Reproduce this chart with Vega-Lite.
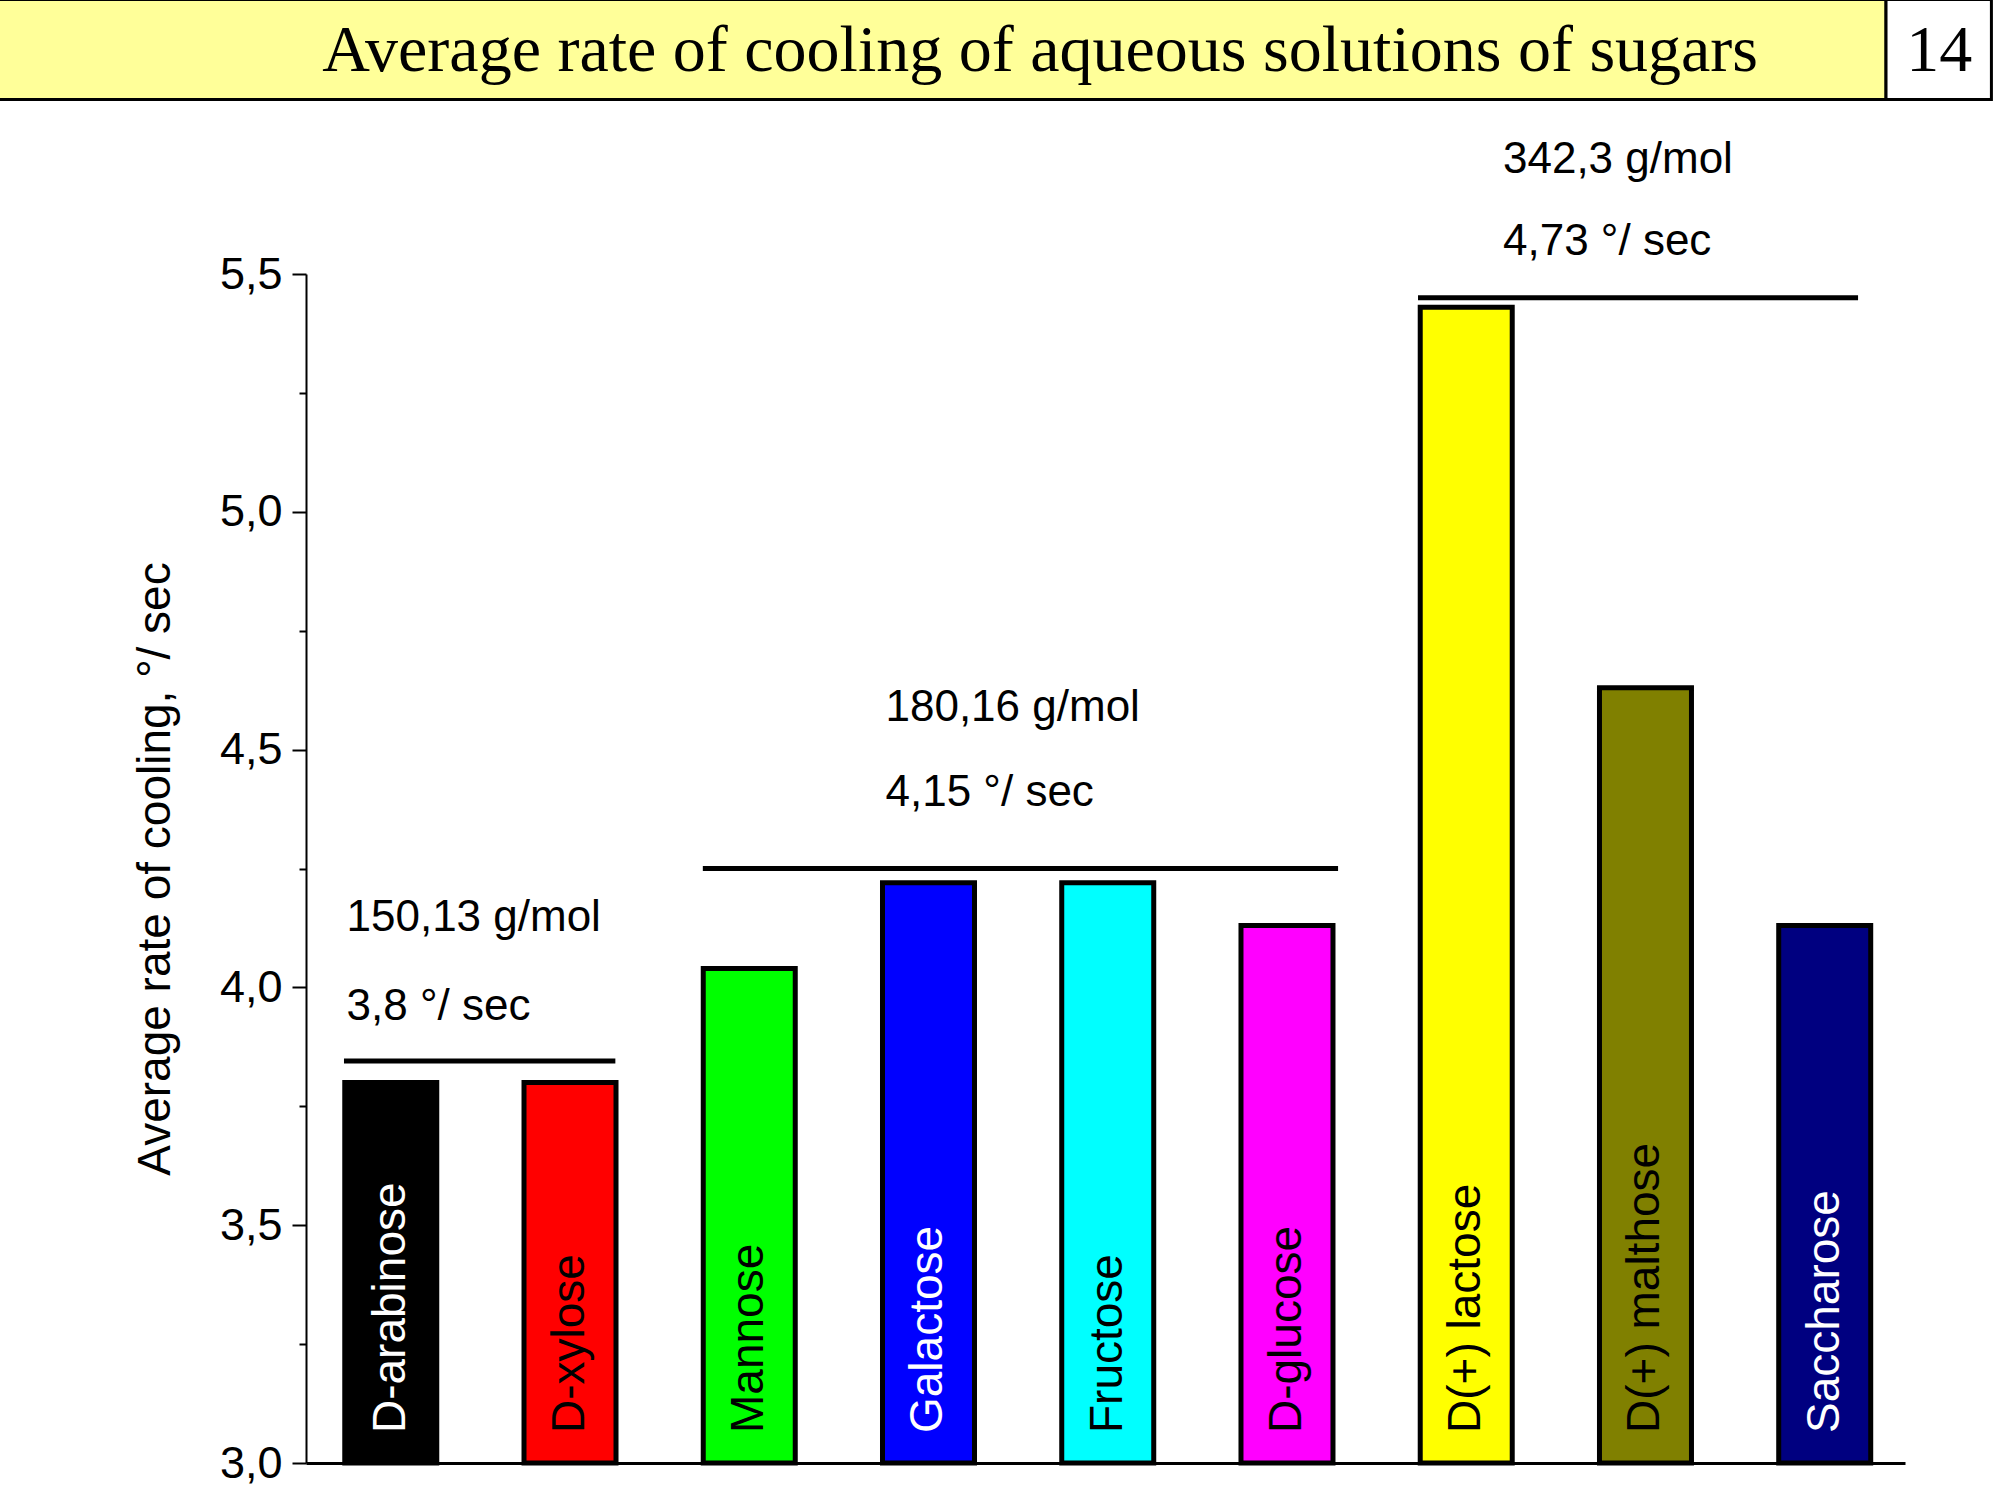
{
  "$schema": "https://vega.github.io/schema/vega-lite/v6.json",
  "width": 1599,
  "height": 1189,
  "autosize": {"type": "none"},
  "padding": {"left": 306, "top": 274, "right": 95, "bottom": 37},
  "background": "white",
  "config": {"view": {"stroke": null}, "font": "Liberation Sans"},
  "resolve": {"scale": {"fill": "independent"}},
  "datasets": {
    "sugars": [
      {"i": 1, "sugar": "D-arabinose", "rate": 3.80},
      {"i": 2, "sugar": "D-xylose", "rate": 3.80},
      {"i": 3, "sugar": "Mannose", "rate": 4.04},
      {"i": 4, "sugar": "Galactose", "rate": 4.22},
      {"i": 5, "sugar": "Fructose", "rate": 4.22},
      {"i": 6, "sugar": "D-glucose", "rate": 4.13},
      {"i": 7, "sugar": "D(+) lactose", "rate": 5.43},
      {"i": 8, "sugar": "D(+) malthose", "rate": 4.63},
      {"i": 9, "sugar": "Saccharose", "rate": 4.13}
    ],
    "groups": [
      {"from": 0.739, "to": 2.253, "level": 3.845},
      {"from": 2.741, "to": 6.285, "level": 4.25},
      {"from": 6.731, "to": 9.186, "level": 5.45}
    ],
    "notes": [
      {"x": 0.753, "y": 4.145, "t": "150,13  g/mol"},
      {"x": 0.753, "y": 3.958, "t": "3,8    °/ sec"},
      {"x": 3.76, "y": 4.588, "t": "180,16  g/mol"},
      {"x": 3.76, "y": 4.408, "t": "4,15   °/ sec"},
      {"x": 7.205, "y": 5.74, "t": "342,3  g/mol"},
      {"x": 7.205, "y": 5.567, "t": "4,73   °/ sec"}
    ],
    "header": [
      {"x": -1.3, "x2": 9.342, "y": 5.867, "y2": 6.077, "fill": "yellow"},
      {"x": 9.342, "x2": 9.93, "y": 5.867, "y2": 6.077, "fill": "white"}
    ],
    "headtext": [
      {"x": 4.623, "y": 5.969, "t": "Average rate of cooling of aqueous solutions of sugars"},
      {"x": 9.639, "y": 5.969, "t": "14"}
    ]
  },
  "layer": [
    {
      "data": {"name": "header"},
      "mark": {"type": "rect", "stroke": "black", "strokeWidth": 3, "clip": false},
      "encoding": {
        "x": {"field": "x", "type": "quantitative"},
        "x2": {"field": "x2"},
        "y": {"field": "y", "type": "quantitative"},
        "y2": {"field": "y2"},
        "fill": {"field": "fill", "type": "nominal", "scale": {"domain": ["yellow", "white"], "range": ["#ffff99", "#ffffff"]}, "legend": null}
      }
    },
    {
      "data": {"name": "headtext"},
      "mark": {"type": "text", "font": "Liberation Serif", "fontSize": 66, "color": "black", "baseline": "middle", "clip": false},
      "encoding": {
        "x": {"field": "x", "type": "quantitative"},
        "y": {"field": "y", "type": "quantitative"},
        "text": {"field": "t"}
      }
    },
    {
      "data": {"name": "sugars"},
      "mark": {"type": "bar", "size": 92, "stroke": "black", "strokeWidth": 5},
      "encoding": {
        "x": {
          "field": "i", "type": "quantitative",
          "scale": {"domain": [0.555, 9.42], "nice": false, "zero": false},
          "axis": {"title": null, "labels": false, "ticks": false, "grid": false, "domainColor": "black", "domainWidth": 3}
        },
        "y": {
          "field": "rate", "type": "quantitative",
          "scale": {"domain": [3, 5.5], "nice": false, "zero": false},
          "axis": {
            "title": "Average rate of cooling, °/ sec",
            "titleFontSize": 46, "titleFontWeight": "normal", "titleColor": "black", "titlePadding": 40,
            "values": [3, 3.25, 3.5, 3.75, 4, 4.25, 4.5, 4.75, 5, 5.25, 5.5],
            "format": ".1f",
            "labelExpr": "datum.value * 2 % 1 == 0 ? replace(datum.label, '.', ',') : ''",
            "labelFontSize": 45, "labelColor": "black", "labelPadding": 10,
            "tickColor": "black", "tickWidth": 2,
            "tickSize": {"condition": {"test": "datum.value * 2 % 1 == 0", "value": 14}, "value": 7},
            "domainColor": "black", "domainWidth": 2, "grid": false
          }
        },
        "y2": {"datum": 3},
        "fill": {
          "field": "sugar", "type": "nominal", "legend": null,
          "scale": {
            "domain": ["D-arabinose", "D-xylose", "Mannose", "Galactose", "Fructose", "D-glucose", "D(+) lactose", "D(+) malthose", "Saccharose"],
            "range": ["#000000", "#ff0000", "#00ff00", "#0000ff", "#00ffff", "#ff00ff", "#ffff00", "#808000", "#000080"]
          }
        }
      }
    },
    {
      "data": {"name": "sugars"},
      "mark": {"type": "text", "angle": 270, "align": "left", "baseline": "middle", "fontSize": 46, "dx": 30},
      "encoding": {
        "x": {"field": "i", "type": "quantitative"},
        "y": {"datum": 3},
        "text": {"field": "sugar"},
        "color": {
          "condition": {"test": "indexof(['D-arabinose','Galactose','Saccharose'], datum.sugar) >= 0", "value": "white"},
          "value": "black"
        }
      }
    },
    {
      "data": {"name": "groups"},
      "mark": {"type": "rule", "strokeWidth": 5, "color": "black", "clip": false},
      "encoding": {
        "x": {"field": "from", "type": "quantitative"},
        "x2": {"field": "to"},
        "y": {"field": "level", "type": "quantitative"}
      }
    },
    {
      "data": {"name": "notes"},
      "mark": {"type": "text", "align": "left", "baseline": "middle", "fontSize": 44, "color": "black", "clip": false},
      "encoding": {
        "x": {"field": "x", "type": "quantitative"},
        "y": {"field": "y", "type": "quantitative"},
        "text": {"field": "t"}
      }
    }
  ]
}
